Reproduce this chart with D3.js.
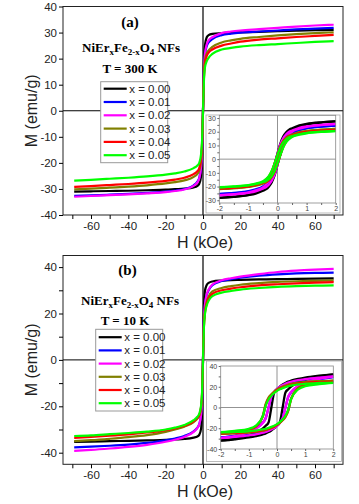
<!DOCTYPE html>
<html><head><meta charset="utf-8">
<script src="https://cdn.jsdelivr.net/npm/d3@7"></script>
<style>
html,body{margin:0;padding:0;background:#fff;}
svg{display:block;}
text{font-family:"Liberation Sans",Arial,sans-serif;}
.ser{font-family:"Liberation Serif","Times New Roman",serif;font-weight:bold;}
</style></head><body>
<svg id="c" width="359" height="504"></svg>
<script>
// ---------- data ----------
const seriesLabels = ["x = 0.00","x = 0.01","x = 0.02","x = 0.03","x = 0.04","x = 0.05"];
const seriesColors = ["#000000","#0000ff","#ff00ff","#808000","#ff0000","#00ff00"];
const xTicksMain = [-70,-60,-50,-40,-30,-20,-10,0,10,20,30,40,50,60,70];
const yTicksA = [-40,-30,-20,-10,0,10,20,30,40];
const yTicksB = [-40,-30,-20,-10,0,10,20,30,40];
const xTicksInset = [-2,-1.5,-1,-0.5,0,0.5,1,1.5,2];
const yTicksInsetA = [-30,-25,-20,-15,-10,-5,0,5,10,15,20,25,30];
const yTicksInsetB = [-40,-30,-20,-10,0,10,20,30,40];

// main-panel field values (kOe)
const hMain = [-69,-60,-50,-40,-30,-20,-15,-10,-5,-3,-2,-1,-0.5,0,0.5,1,2,3,5,10,15,20,30,40,50,60,70];
// panel (a) T = 300 K, M (emu/g)
const mainA = [
 [-31.0,-30.9,-30.8,-30.7,-30.5,-30.3,-30.1,-29.9,-29.4,-28.8,-28.0,-25.0,-18,0,18,25.0,28.2,29.0,29.5,29.8,30.0,30.1,30.3,30.5,30.7,30.9,31.0],
 [-32.7,-32.5,-32.2,-31.9,-31.5,-31.0,-30.6,-30.0,-28.6,-27.2,-25.7,-21.0,-14.5,0,14.5,21.0,24.8,26.2,27.5,29.0,29.6,30.0,30.4,30.8,31.2,31.5,31.8],
 [-33.0,-32.7,-32.4,-32.1,-31.7,-31.2,-30.8,-30.2,-28.8,-27.5,-26.0,-21.5,-15,0,15,21.5,25.5,27.0,28.2,29.8,30.4,30.8,31.3,31.8,32.3,32.7,33.0],
 [-30.2,-29.9,-29.5,-29.1,-28.6,-27.9,-27.4,-26.7,-25.4,-24.2,-23.0,-19.0,-13,0,13,19.0,22.0,23.2,24.5,26.2,27.0,27.6,28.3,28.9,29.4,29.8,30.1],
 [-29.2,-28.9,-28.5,-28.1,-27.6,-26.9,-26.4,-25.7,-24.3,-23.2,-22.0,-18.0,-12.5,0,12.5,18.0,21.0,22.3,23.5,25.0,25.8,26.5,27.3,27.8,28.3,28.7,29.1],
 [-26.8,-26.5,-26.1,-25.7,-25.2,-24.5,-24.0,-23.3,-22.0,-21.0,-20.0,-16.5,-11.5,0,11.5,16.5,19.0,20.3,21.8,23.5,24.1,24.6,25.2,25.6,26.0,26.4,26.7]
];
// panel (b) T = 10 K
const mainB = [
 [-35.3,-35.2,-35.0,-34.9,-34.7,-34.5,-34.3,-34.1,-33.5,-33.0,-32.3,-29.5,-22,0,22,29.5,32.3,33.2,33.8,34.2,34.4,34.5,34.7,34.8,34.9,35.0,35.1],
 [-37.7,-37.4,-37.0,-36.5,-35.8,-34.7,-33.9,-32.8,-30.8,-29.2,-27.7,-23.3,-17,0,17,23.3,28.0,30.0,32.2,34.0,34.8,35.4,36.3,36.9,37.3,37.5,37.6],
 [-39.2,-38.8,-38.2,-37.5,-36.6,-35.3,-34.4,-33.2,-31.0,-29.3,-27.8,-23.5,-17,0,17,23.5,28.3,30.3,32.5,34.3,35.2,35.9,37.0,37.9,38.5,38.9,39.2],
 [-35.0,-34.6,-34.0,-33.3,-32.4,-31.0,-30.0,-28.8,-26.8,-25.3,-24.0,-20.5,-15,0,15,20.5,25.0,27.3,29.5,31.0,31.8,32.4,33.1,33.6,33.9,34.1,34.3],
 [-33.6,-33.2,-32.7,-32.1,-31.3,-30.3,-29.5,-28.4,-26.5,-25.0,-23.8,-20.0,-14.5,0,14.5,20.0,24.3,26.5,28.5,30.0,30.7,31.3,32.1,32.6,33.0,33.3,33.5],
 [-32.8,-32.5,-32.0,-31.5,-30.9,-30.0,-29.2,-28.1,-26.0,-24.5,-23.2,-19.5,-14,0,14,19.5,23.5,25.5,27.5,29.0,29.7,30.3,31.0,31.5,31.8,32.0,32.1]
];

// inset field values (kOe)
const hInset = [-2,-1.5,-1,-0.75,-0.5,-0.4,-0.3,-0.2,-0.1,0,0.1,0.2,0.3,0.4,0.5,0.75,1,1.5,2];
// inset (a): ascending branch / descending branch
const insetALower = [
 [-28.3,-27.5,-26.3,-25.2,-23.1,-22.1,-20.1,-17.0,-11.9,-4.2,4.1,11.6,16.6,19.6,21.5,23.9,25.3,26.7,27.5],
 [-25.5,-24.8,-23.7,-22.7,-20.8,-19.9,-18.1,-15.3,-10.7,-3.8,3.7,10.3,14.7,17.4,19.1,21.2,22.5,23.7,24.4],
 [-26.4,-25.7,-24.6,-23.5,-21.5,-20.6,-18.7,-15.8,-11.1,-4.0,3.9,10.8,15.4,18.2,20.0,22.2,23.6,24.9,25.6],
 [-21.8,-21.2,-20.3,-19.4,-17.8,-17.0,-15.5,-13.1,-9.2,-3.3,3.3,9.3,13.3,15.7,17.2,19.1,20.3,21.4,22.0],
 [-21.4,-20.8,-19.9,-19.0,-17.4,-16.7,-15.2,-12.8,-9.0,-3.2,3.2,9.0,12.8,15.2,16.7,18.5,19.6,20.7,21.3],
 [-20.6,-20.0,-19.2,-18.3,-16.8,-16.1,-14.6,-12.4,-8.7,-3.1,3.1,8.7,12.4,14.6,16.1,17.8,18.9,19.9,20.5]
];
const insetAUpper = [
 [-28.2,-27.4,-26.0,-24.5,-22.1,-20.1,-17.0,-11.9,-4.2,4.1,11.6,16.6,19.6,21.5,22.5,24.6,25.7,26.9,27.6],
 [-25.4,-24.7,-23.4,-22.1,-19.9,-18.1,-15.3,-10.7,-3.8,3.7,10.3,14.7,17.4,19.1,20.0,21.8,22.8,23.8,24.5],
 [-26.3,-25.5,-24.2,-22.8,-20.6,-18.7,-15.8,-11.1,-4.0,3.9,10.8,15.4,18.2,20.0,20.9,22.9,23.9,25.0,25.7],
 [-21.7,-21.1,-20.0,-18.9,-17.0,-15.5,-13.1,-9.2,-3.3,3.3,9.3,13.3,15.7,17.2,18.0,19.7,20.6,21.5,22.1],
 [-21.3,-20.7,-19.6,-18.5,-16.7,-15.2,-12.8,-9.0,-3.2,3.2,9.0,12.8,15.2,16.7,17.4,19.0,19.9,20.8,21.4],
 [-20.5,-19.9,-18.9,-17.8,-16.1,-14.6,-12.4,-8.7,-3.1,3.1,8.7,12.4,14.6,16.1,16.8,18.3,19.2,20.0,20.6]
];
// inset (b)
const insetBLower = [
 [-32.0,-30.6,-28.8,-27.5,-25.9,-25.0,-23.7,-22.1,-20.2,-17.6,-14.4,0,14.4,17.6,20.2,24.2,26.7,30.2,31.6],
 [-29.0,-27.8,-26.3,-25.4,-23.9,-23.2,-22.0,-20.8,-19.5,-17.4,-14.5,-10.1,0,10.3,14.7,20.5,23.6,27.0,29.3],
 [-29.5,-28.3,-26.8,-25.8,-24.3,-23.6,-22.4,-21.2,-19.8,-17.7,-14.8,-10.3,0,10.5,15.0,20.9,24.0,27.5,29.8],
 [-25.5,-25.0,-24.3,-23.5,-22.3,-21.7,-20.9,-19.8,-18.5,-17.0,-14.9,-12.3,-9.0,-3.0,8.0,18.8,22.1,24.4,25.8],
 [-25.0,-24.5,-23.8,-23.1,-21.9,-21.3,-20.5,-19.5,-18.2,-16.7,-14.6,-12.0,-8.5,-2.5,8.5,18.2,21.3,23.4,24.8],
 [-24.0,-23.6,-22.9,-22.2,-21.1,-20.5,-19.7,-18.7,-17.5,-16.0,-14.0,-11.5,-8.0,-2.0,8.0,17.5,20.5,22.5,23.8]
];
const insetBUpper = [
 [-31.6,-30.2,-26.7,-24.2,-20.2,-17.6,-14.4,0,14.4,17.6,20.2,22.1,23.7,25.0,25.9,27.5,28.8,30.6,32.0],
 [-28.8,-27.0,-23.2,-20.1,-14.5,-10.1,0,10.3,14.7,17.7,19.7,21.2,22.4,23.6,24.4,25.8,26.8,28.3,29.5],
 [-29.3,-27.5,-23.6,-20.5,-14.8,-10.3,0,10.5,15.0,18.0,20.1,21.6,22.8,24.0,24.8,26.3,27.3,28.8,30.0],
 [-25.3,-23.9,-21.6,-18.5,-7.5,3.5,9.5,12.8,15.3,17.4,18.9,20.2,21.2,22.0,22.7,23.9,24.7,25.5,26.0],
 [-24.8,-23.4,-21.3,-18.2,-8.5,2.5,8.5,12.0,14.6,16.7,18.2,19.5,20.5,21.3,21.9,23.1,23.8,24.5,25.0],
 [-23.8,-22.5,-20.5,-17.5,-8.0,2.0,8.0,11.5,14.0,16.0,17.5,18.7,19.7,20.5,21.1,22.2,22.9,23.6,24.0]
];

// ---------- drawing ----------
const svg = d3.select("#c");
const fmt = d => String(d);

function mainPanel(cfg){
  const g = svg.append("g");
  const x = d3.scaleLinear().domain([-75,75]).range([63,343]);
  const y = d3.scaleLinear().domain(cfg.yDomain).range([cfg.bottom,cfg.top]);
  // zero lines
  g.append("line").attr("x1",x(-75)).attr("x2",x(75)).attr("y1",y(0)).attr("y2",y(0)).attr("stroke","#000").attr("stroke-width",1);
  g.append("line").attr("x1",x(0)).attr("x2",x(0)).attr("y1",cfg.top).attr("y2",cfg.bottom).attr("stroke","#000").attr("stroke-width",1.2);
  // curves
  const line = d3.line().x((d,i)=>x(hMain[i])).y(d=>y(d)).curve(d3.curveMonotoneX);
  cfg.data.forEach((s,k)=>{
    g.append("path").attr("d",line(s)).attr("fill","none").attr("stroke",seriesColors[k]).attr("stroke-width",2.2);
  });
  // frame
  g.append("rect").attr("x",63).attr("y",cfg.top).attr("width",280).attr("height",cfg.bottom-cfg.top)
    .attr("fill","none").attr("stroke","#222").attr("stroke-width",1);
  // axes
  const xa = d3.axisBottom(x).tickValues(xTicksMain).tickSize(4).tickSizeOuter(0).tickPadding(3)
    .tickFormat(d => d%20===0 ? fmt(d) : "");
  const gx = g.append("g").attr("transform",`translate(0,${cfg.bottom})`).call(xa);
  gx.select(".domain").remove();
  gx.selectAll("text").attr("font-size",11.5).attr("fill","#222");
  const ya = d3.axisLeft(y).tickValues(cfg.yTicks).tickSize(4).tickSizeOuter(0).tickPadding(2)
    .tickFormat(d => d%cfg.yLabelStep===0 ? fmt(d) : "");
  const gy = g.append("g").attr("transform","translate(63,0)").call(ya);
  gy.select(".domain").remove();
  gy.selectAll("text").attr("font-size",11.5).attr("fill","#222");
  // axis titles
  g.append("text").attr("x",205).attr("y",cfg.xTitleY).attr("text-anchor","middle").attr("font-size",16).attr("fill","#222").text("H (kOe)");
  g.append("text").attr("transform",`translate(37,${(cfg.top+cfg.bottom)/2}) rotate(-90)`).attr("text-anchor","middle").attr("font-size",16).attr("fill","#222").text("M (emu/g)");
  // annotations
  g.append("text").attr("class","ser").attr("x",cfg.lx).attr("y",cfg.labY).attr("text-anchor","middle").attr("font-size",15).text(cfg.label);
  const f = g.append("text").attr("class","ser").attr("x",cfg.fx).attr("y",cfg.fY).attr("text-anchor","middle").attr("font-size",13);
  f.append("tspan").text("NiEr");
  f.append("tspan").attr("font-size",9).attr("dy",3).text("x");
  f.append("tspan").attr("dy",-3).text("Fe");
  f.append("tspan").attr("font-size",9).attr("dy",3).text("2-x");
  f.append("tspan").attr("dy",-3).text("O");
  f.append("tspan").attr("font-size",9).attr("dy",3).text("4");
  f.append("tspan").attr("dy",-3).text(" NFs");
  g.append("text").attr("class","ser").attr("x",cfg.tx).attr("y",cfg.tY).attr("text-anchor","middle").attr("font-size",13).text(cfg.temp);
  // legend
  const L = cfg.legend;
  g.append("rect").attr("x",L.x).attr("y",L.y).attr("width",L.w).attr("height",L.h).attr("fill","#fff").attr("stroke","#999").attr("stroke-width",1);
  seriesLabels.forEach((lab,k)=>{
    const yy = L.row0 + k*L.step;
    g.append("line").attr("x1",L.x+3).attr("x2",L.x+26).attr("y1",yy).attr("y2",yy).attr("stroke",seriesColors[k]).attr("stroke-width",2.2);
    g.append("text").attr("x",L.x+28.5).attr("y",yy+4).attr("font-size",11.5).attr("fill","#222").text(lab);
  });
  // inset
  const I = cfg.inset;
  g.append("rect").attr("x",I.bx).attr("y",I.by).attr("width",I.bw).attr("height",I.bh).attr("fill","#fff").attr("stroke","#aaa").attr("stroke-width",0.8);
  const ix = d3.scaleLinear().domain([-2,2]).range([I.l,I.r]);
  const iy = d3.scaleLinear().domain(I.yDomain).range([I.b,I.t]);
  g.append("line").attr("x1",I.l).attr("x2",I.r).attr("y1",iy(0)).attr("y2",iy(0)).attr("stroke","#777").attr("stroke-width",0.8);
  g.append("line").attr("x1",ix(0)).attr("x2",ix(0)).attr("y1",I.t).attr("y2",I.b).attr("stroke","#777").attr("stroke-width",0.8);
  const il = d3.line().x((d,i)=>ix(hInset[i])).y(d=>iy(d)).curve(d3.curveMonotoneX);
  I.lower.forEach((s,k)=>{
    g.append("path").attr("d",il(s)).attr("fill","none").attr("stroke",seriesColors[k]).attr("stroke-width",2.3);
    g.append("path").attr("d",il(I.upper[k])).attr("fill","none").attr("stroke",seriesColors[k]).attr("stroke-width",2.3);
  });
  g.append("rect").attr("x",I.l).attr("y",I.t).attr("width",I.r-I.l).attr("height",I.b-I.t).attr("fill","none").attr("stroke","#888").attr("stroke-width",0.8);
  const ixa = d3.axisBottom(ix).tickValues(xTicksInset).tickSize(2).tickSizeOuter(0).tickPadding(1.5)
    .tickFormat(d => Number.isInteger(d) ? fmt(d) : "");
  const gix = g.append("g").attr("transform",`translate(0,${I.b})`).call(ixa);
  gix.select(".domain").remove();
  gix.selectAll("line").attr("stroke","#666");
  gix.selectAll("text").attr("font-size",7).attr("fill","#444");
  const iya = d3.axisLeft(iy).tickValues(I.yTicks).tickSize(2).tickSizeOuter(0).tickPadding(1.5)
    .tickFormat(d => d%I.yLabelStep===0 ? fmt(d) : "");
  const giy = g.append("g").attr("transform",`translate(${I.l},0)`).call(iya);
  giy.select(".domain").remove();
  giy.selectAll("line").attr("stroke","#666");
  giy.selectAll("text").attr("font-size",7).attr("fill","#444");
}

mainPanel({
  yDomain:[-40,40], top:6.5, bottom:215, yTicks:yTicksA, yLabelStep:10, data:mainA,
  xTitleY:248, label:"(a)", lx:130, labY:27, fx:131, fY:51.5, tx:130, tY:72.5, temp:"T = 300 K",
  legend:{x:100.7,y:81.7,w:67,h:81,row0:88.7,step:13.3},
  inset:{bx:206,by:115,bw:134,bh:98,l:219.3,r:335.7,t:115.3,b:203,yDomain:[-32,32],yTicks:yTicksInsetA,yLabelStep:10,lower:insetALower,upper:insetAUpper}
});
mainPanel({
  yDomain:[-45,45], top:255.5, bottom:464.3, yTicks:yTicksB, yLabelStep:20, data:mainB,
  xTitleY:497, label:"(b)", lx:127.5, labY:274.5, fx:130, fY:305, tx:125, tY:325, temp:"T = 10 K",
  legend:{x:95.7,y:329.3,w:67,h:81.7,row0:337.2,step:13.2},
  inset:{bx:206.5,by:361,bw:135,bh:100.5,l:220.7,r:333.3,t:366,b:449,yDomain:[-40,40],yTicks:yTicksInsetB,yLabelStep:20,lower:insetBLower,upper:insetBUpper}
});
</script>
</body></html>
